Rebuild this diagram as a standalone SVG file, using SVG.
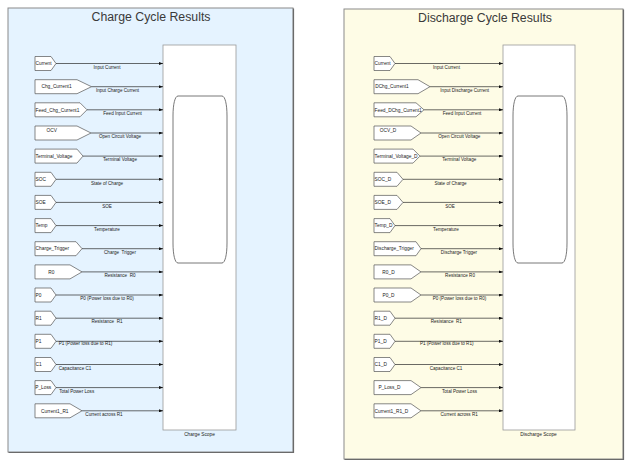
<svg xmlns="http://www.w3.org/2000/svg" width="631" height="468" viewBox="0 0 631 468">
<style>
.pnl{stroke:#8a8a8a;stroke-width:1}
.shd{stroke:#6a6a6a;stroke-width:1.2;fill:none}
.ttl{font-family:"Liberation Sans",Arial,sans-serif;font-size:12.3px;fill:#3a3a3a;text-anchor:middle}
.blk{fill:#fff;stroke:#555;stroke-width:0.7}
.bt{font-family:"Liberation Sans",Arial,sans-serif;font-size:4.8px;fill:#222}
.m{text-anchor:middle}
.lbl{font-family:"Liberation Sans",Arial,sans-serif;font-size:4.6px;fill:#222;text-anchor:middle}
.ln{stroke:#2a2a2a;stroke-width:0.7;fill:none;marker-end:url(#ah)}
.scope{fill:#fff;stroke:#9a9a9a;stroke-width:0.8}
.scr{fill:#fff;stroke:#555;stroke-width:0.8}
.sl{font-family:"Liberation Sans",Arial,sans-serif;font-size:4.8px;fill:#222;text-anchor:middle}
</style>
<defs>
<marker id="ah" markerUnits="userSpaceOnUse" markerWidth="4" markerHeight="3" refX="4" refY="1.5" orient="auto">
<path d="M0,0 L4,1.5 L0,3 Z" fill="#111"/>
</marker>
</defs>
<g id="charge-panel">
<rect class="pnl" x="8" y="8" width="285" height="444" fill="#E5F3FF"/>
<path class="shd" d="M293.5,8.5V452.5H8.5"/>
<text class="ttl" x="151" y="21">Charge Cycle Results</text>
</g>
<g id="discharge-panel">
<rect class="pnl" x="344" y="9" width="279" height="450" fill="#FEFCE6"/>
<path class="shd" d="M623.5,9.5V459.5H344.5"/>
<text class="ttl" x="485" y="21.5">Discharge Cycle Results</text>
</g>
<g id="charge-scope">
<rect class="scope" x="163" y="45" width="73" height="385"/>
<path class="scr" d="M173,116 C173,104 175,96 178,96 L222,96 C225,96 227,104 227,116 L227,243 C227,255 225,263 222,263 L178,263 C175,263 173,255 173,243 Z"/>
<text class="sl" x="199.5" y="436">Charge Scope</text>
</g>
<g id="discharge-scope">
<rect class="scope" x="503" y="45" width="72" height="385"/>
<path class="scr" d="M513,116 C513,104 515,96 518,96 L562,96 C565,96 567,104 567,116 L567,243 C567,255 565,263 562,263 L518,263 C515,263 513,255 513,243 Z"/>
<text class="sl" x="538.5" y="436">Discharge Scope</text>
</g>
<g id="c-current"><polygon class="blk" points="35,56.5 51,56.5 56,63.5 51,70.5 35,70.5"/><text class="bt" x="35.6" y="65.2">Current</text></g>
<g id="c-chg-current"><polygon class="blk" points="35,79.7 77,79.7 91.5,86.7 77,93.7 35,93.7"/><text class="bt m" x="56.5" y="88.4">Chg_Current1</text></g>
<g id="c-feed"><polygon class="blk" points="35,102.8 80,102.8 87,109.8 80,116.8 35,116.8"/><text class="bt" x="35.6" y="111.5">Feed_Chg_Current1</text></g>
<g id="c-ocv"><polygon class="blk" points="35,126 77,126 91,133 77,140 35,140"/><text class="bt m" x="51.7" y="131.5">OCV</text></g>
<g id="c-term"><polygon class="blk" points="35,149.1 77,149.1 83,156.1 77,163.1 35,163.1"/><text class="bt" x="35.6" y="157.8">Terminal_Voltage</text></g>
<g id="c-soc"><polygon class="blk" points="35,172.3 51,172.3 56,179.3 51,186.3 35,186.3"/><text class="bt" x="35.6" y="181">SOC</text></g>
<g id="c-soe"><polygon class="blk" points="35,195.4 51,195.4 56,202.4 51,209.4 35,209.4"/><text class="bt" x="35.6" y="204.1">SOE</text></g>
<g id="c-temp"><polygon class="blk" points="35,218.6 51,218.6 56,225.6 51,232.6 35,232.6"/><text class="bt" x="35.6" y="227.3">Temp</text></g>
<g id="c-trig"><polygon class="blk" points="35,241.7 76,241.7 82,248.7 76,255.7 35,255.7"/><text class="bt" x="35.6" y="250.4">Charge_Trigger</text></g>
<g id="c-r0"><polygon class="blk" points="35,264.9 70,264.9 82,271.9 70,278.9 35,278.9"/><text class="bt m" x="51.3" y="273.6">R0</text></g>
<g id="c-p0"><polygon class="blk" points="35,288 51,288 56,295 51,302 35,302"/><text class="bt" x="35.6" y="296.7">P0</text></g>
<g id="c-r1"><polygon class="blk" points="35,311.2 51,311.2 56,318.2 51,325.2 35,325.2"/><text class="bt" x="35.6" y="319.9">R1</text></g>
<g id="c-p1"><polygon class="blk" points="35,334.3 51,334.3 56,341.3 51,348.3 35,348.3"/><text class="bt" x="35.6" y="343">P1</text></g>
<g id="c-c1"><polygon class="blk" points="35,357.5 51,357.5 56,364.5 51,371.5 35,371.5"/><text class="bt" x="35.6" y="366.2">C1</text></g>
<g id="c-ploss"><polygon class="blk" points="35,380.6 51,380.6 56,387.6 51,394.6 35,394.6"/><text class="bt" x="35.2" y="389.3">P_Loss</text></g>
<g id="c-cur-r1"><polygon class="blk" points="35,403.8 70,403.8 82,410.8 70,417.8 35,417.8"/><text class="bt m" x="54.8" y="412.5">Current1_R1</text></g>
<g id="d-current"><polygon class="blk" points="374,56.5 390,56.5 395,63.5 390,70.5 374,70.5"/><text class="bt" x="374.6" y="65.2">Current</text></g>
<g id="d-dchg-current"><polygon class="blk" points="374,79.7 418,79.7 430,86.7 418,93.7 374,93.7"/><text class="bt m" x="392" y="88.4">DChg_Current1</text></g>
<g id="d-feed"><polygon class="blk" points="374,102.8 416,102.8 424,109.8 416,116.8 374,116.8"/><text class="bt" x="374.6" y="111.5">Feed_DChg_Current1</text></g>
<g id="d-ocv"><polygon class="blk" points="374,126 411,126 421,133 411,140 374,140"/><text class="bt m" x="388" y="131.5">OCV_D</text></g>
<g id="d-term"><polygon class="blk" points="374,149.1 413,149.1 420,156.1 413,163.1 374,163.1"/><text class="bt" x="374.6" y="157.8">Terminal_Voltage_D</text></g>
<g id="d-soc"><polygon class="blk" points="374,172.3 397,172.3 403,179.3 397,186.3 374,186.3"/><text class="bt" x="374.6" y="181">SOC_D</text></g>
<g id="d-soe"><polygon class="blk" points="374,195.4 397,195.4 403,202.4 397,209.4 374,209.4"/><text class="bt" x="374.6" y="204.1">SOE_D</text></g>
<g id="d-temp"><polygon class="blk" points="374,218.6 390,218.6 395,225.6 390,232.6 374,232.6"/><text class="bt" x="374.6" y="227.3">Temp_D</text></g>
<g id="d-trig"><polygon class="blk" points="374,241.7 416,241.7 421,248.7 416,255.7 374,255.7"/><text class="bt" x="374.6" y="250.4">Discharge_Trigger</text></g>
<g id="d-r0"><polygon class="blk" points="374,264.9 411,264.9 421,271.9 411,278.9 374,278.9"/><text class="bt m" x="388.5" y="273.6">R0_D</text></g>
<g id="d-p0"><polygon class="blk" points="374,288 411,288 421,295 411,302 374,302"/><text class="bt m" x="388.5" y="296.7">P0_D</text></g>
<g id="d-r1"><polygon class="blk" points="374,311.2 390,311.2 395,318.2 390,325.2 374,325.2"/><text class="bt" x="374.6" y="319.9">R1_D</text></g>
<g id="d-p1"><polygon class="blk" points="374,334.3 390,334.3 395,341.3 390,348.3 374,348.3"/><text class="bt" x="374.6" y="343">P1_D</text></g>
<g id="d-c1"><polygon class="blk" points="374,357.5 390,357.5 395,364.5 390,371.5 374,371.5"/><text class="bt" x="374.6" y="366.2">C1_D</text></g>
<g id="d-ploss"><polygon class="blk" points="374,380.6 411,380.6 421,387.6 411,394.6 374,394.6"/><text class="bt m" x="389.5" y="389.3">P_Loss_D</text></g>
<g id="d-cur-r1"><polygon class="blk" points="374,403.8 411,403.8 421,410.8 411,417.8 374,417.8"/><text class="bt" x="374.6" y="412.5">Current1_R1_D</text></g>
<g id="connectors">
<path class="ln" d="M56,63.5H163"/>
<path class="ln" d="M91.5,86.7H163"/>
<path class="ln" d="M87,109.8H163"/>
<path class="ln" d="M91,133H163"/>
<path class="ln" d="M83,156.1H163"/>
<path class="ln" d="M56,179.3H163"/>
<path class="ln" d="M56,202.4H163"/>
<path class="ln" d="M56,225.6H163"/>
<path class="ln" d="M82,248.7H163"/>
<path class="ln" d="M82,271.9H163"/>
<path class="ln" d="M56,295H163"/>
<path class="ln" d="M56,318.2H163"/>
<path class="ln" d="M56,341.3H163"/>
<path class="ln" d="M56,364.5H163"/>
<path class="ln" d="M56,387.6H163"/>
<path class="ln" d="M82,410.8H163"/>
<path class="ln" d="M395,63.5H503"/>
<path class="ln" d="M430,86.7H503"/>
<path class="ln" d="M424,109.8H503"/>
<path class="ln" d="M421,133H503"/>
<path class="ln" d="M420,156.1H503"/>
<path class="ln" d="M403,179.3H503"/>
<path class="ln" d="M403,202.4H503"/>
<path class="ln" d="M395,225.6H503"/>
<path class="ln" d="M421,248.7H503"/>
<path class="ln" d="M421,271.9H503"/>
<path class="ln" d="M421,295H503"/>
<path class="ln" d="M395,318.2H503"/>
<path class="ln" d="M395,341.3H503"/>
<path class="ln" d="M395,364.5H503"/>
<path class="ln" d="M421,387.6H503"/>
<path class="ln" d="M421,410.8H503"/>
<text class="lbl" x="107" y="68.5">Input Current</text>
<text class="lbl" x="117.5" y="91.8">Input Charge Current</text>
<text class="lbl" x="122.5" y="114.5">Feed Input Current</text>
<text class="lbl" x="120" y="137.8">Open Circuit Voltage</text>
<text class="lbl" x="120" y="160.8">Terminal Voltage</text>
<text class="lbl" x="107" y="185">State of Charge</text>
<text class="lbl" x="107" y="207.8">SOE</text>
<text class="lbl" x="107" y="230.8">Temperature</text>
<text class="lbl" x="120" y="253.8" style="white-space:pre">Charge  Trigger</text>
<text class="lbl" x="120" y="277" style="white-space:pre">Resistance  R0</text>
<text class="lbl" x="107" y="299.5">P0 (Power loss due to R0)</text>
<text class="lbl" x="107" y="322.5" style="white-space:pre">Resistance  R1</text>
<text class="lbl" x="85.5" y="345.1">P1 (Power loss due to R1)</text>
<text class="lbl" x="75" y="369.8">Capacitance C1</text>
<text class="lbl" x="76.7" y="392.5">Total Power Loss</text>
<text class="lbl" x="104" y="415.8">Current across R1</text>
<text class="lbl" x="446.5" y="68.5">Input Current</text>
<text class="lbl" x="464.7" y="91.8">Input Discharge Current</text>
<text class="lbl" x="462" y="114.5">Feed Input Current</text>
<text class="lbl" x="459.3" y="137.8">Open Circuit Voltage</text>
<text class="lbl" x="459.3" y="160.8">Terminal Voltage</text>
<text class="lbl" x="450.5" y="185">State of Charge</text>
<text class="lbl" x="450" y="207.8">SOE</text>
<text class="lbl" x="446" y="230.8">Temperature</text>
<text class="lbl" x="459" y="253.8">Discharge Trigger</text>
<text class="lbl" x="460" y="277">Resistance R0</text>
<text class="lbl" x="459.5" y="299.5">P0 (Power loss due to R0)</text>
<text class="lbl" x="446.3" y="322.5" style="white-space:pre">Resistance  R1</text>
<text class="lbl" x="446.7" y="345.1">P1 (Power loss due to R1)</text>
<text class="lbl" x="446" y="369.8">Capacitance C1</text>
<text class="lbl" x="459.5" y="392.8">Total Power Loss</text>
<text class="lbl" x="459.2" y="415.8">Current across R1</text>
</g>
</svg>
